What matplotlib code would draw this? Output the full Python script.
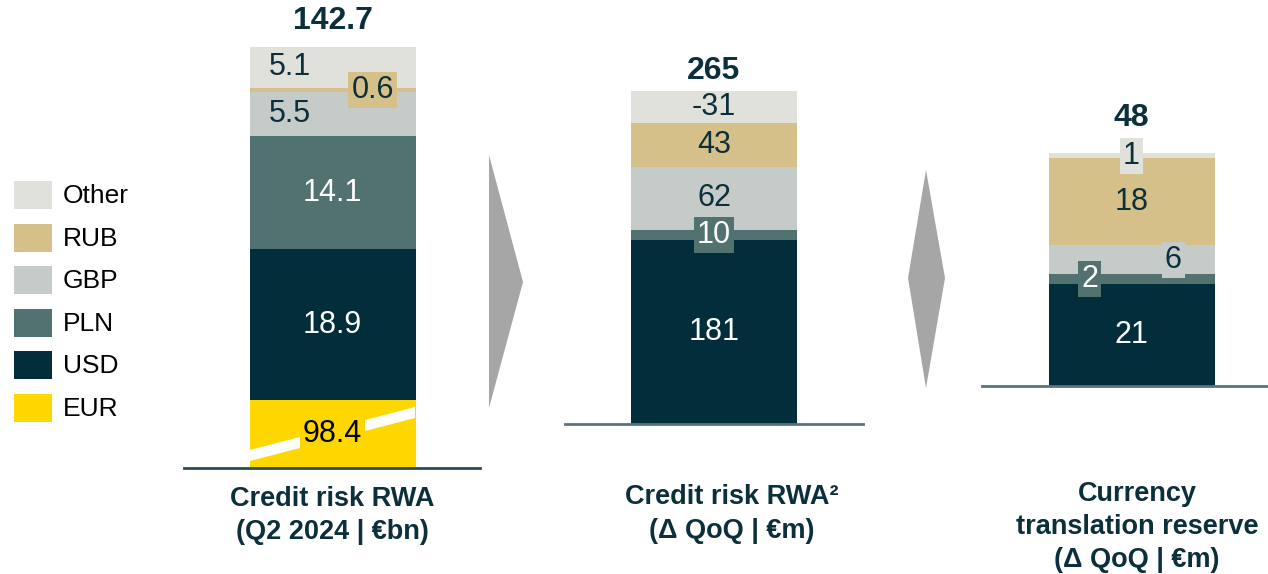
import matplotlib
matplotlib.use("Agg")
import matplotlib.pyplot as plt
from matplotlib.patches import Polygon, Rectangle

plt.rcParams['font.family'] = ['Liberation Sans', 'DejaVu Sans']

# stack order, bottom to top
currencies = ['EUR', 'USD', 'PLN', 'GBP', 'RUB', 'Other']
rwa_q2 = [98.4, 18.9, 14.1, 5.5, 0.6, 5.1]          # €bn
rwa_q2_total = 142.7
eur_shown = 8.4                                      # EUR bar is drawn broken

fx_currencies = ['USD', 'PLN', 'GBP', 'RUB', 'Other']
rwa_qoq = [181, 10, 62, 43, -31]                     # €m
ctr_qoq = [21, 2, 6, 18, 1]                          # €m

legend_order = ['Other', 'RUB', 'GBP', 'PLN', 'USD', 'EUR']

colors = {
    'EUR': '#FFD700',
    'USD': '#022E3C',
    'PLN': '#527171',
    'GBP': '#C5CBC9',
    'RUB': '#D6C08A',
    'Other': '#E1E1DC',
}
text_colors = {'EUR': '#000000', 'USD': 'white', 'PLN': 'white',
               'GBP': '#0B2F3B', 'RUB': '#0B2F3B', 'Other': '#0B2F3B'}
dark = '#0B2F3B'
arrow_grey = '#A6A6A6'

W, H = 1268, 574
fig = plt.figure(figsize=(W / 100, H / 100), dpi=100)


def px(x, y):
    # pixel position (from top-left) to figure fraction
    return x / W, 1 - y / H


def make_panel(left, right, center, base, scale, line_color):
    ax = fig.add_axes([left / W, 1 - base / H, (right - left) / W, base / H])
    ax.set_xlim(left - center, right - center)
    ax.set_ylim(0, base / scale)
    ax.axis('off')
    ax.axhline(0, color=line_color, lw=2, zorder=5, clip_on=False)
    return ax


def draw_stack(ax, names, heights, labels, fmt, offsets, boxed, top_label, top_pad):
    bottom = 0
    for name, h, v in zip(names, heights, labels):
        ax.bar(0, abs(h), width=166, bottom=bottom, color=colors[name], linewidth=0, zorder=2)
        mid = bottom + abs(h) / 2
        bbox = None
        if name in boxed:
            bbox = dict(boxstyle='square,pad=0.1', fc=colors[name], ec='none')
        ax.text(offsets.get(name, 0), mid, fmt(v), ha='center', va='center',
                fontsize=22, color=text_colors[name], bbox=bbox, zorder=6)
        bottom += abs(h)
    ax.annotate(top_label, (0, bottom), xytext=(0, top_pad), textcoords='offset pixels',
                ha='center', va='center', fontsize=23, fontweight='bold', color=dark)
    return bottom


# panel 1: credit risk RWA by currency
ax1 = make_panel(184, 480, 332.5, 467.5, 8.0, '#2E4B55')
heights1 = [eur_shown] + rwa_q2[1:]
draw_stack(ax1, currencies, heights1, rwa_q2, lambda v: f'{v:.1f}',
           {'GBP': -43, 'Other': -43, 'RUB': 40}, ['RUB', 'EUR'],
           f'{rwa_q2_total:.1f}', 26)

# white break across the EUR block
brk = [(250, 450), (415, 407), (415, 418), (250, 461)]
ax1.add_patch(Polygon([(x - 332.5, (467.5 - y) / 8.0) for x, y in brk],
                      closed=True, fc='white', ec='none', zorder=3))

# panel 2: credit risk RWA change
ax2 = make_panel(565, 863, 714, 424, 1.017, '#567579')
draw_stack(ax2, fx_currencies, rwa_qoq, rwa_qoq, lambda v: f'{v:d}',
           {}, ['PLN'], f'{sum(rwa_qoq):d}', 20)

# panel 3: currency translation reserve change
ax3 = make_panel(982, 1268, 1131.5, 386, 4.85, '#567579')
draw_stack(ax3, fx_currencies, ctr_qoq, ctr_qoq, lambda v: f'{v:d}',
           {'PLN': -42, 'GBP': 42}, ['PLN', 'GBP', 'Other'], f'{sum(ctr_qoq):d}', 35)

# connector shapes between panels
chevron = [(489, 155), (523, 282), (489, 408)]
diamond = [(926, 170), (945, 278), (926, 388), (908, 278)]
for shape in (chevron, diamond):
    fig.add_artist(Polygon([px(x, y) for x, y in shape], closed=True,
                           transform=fig.transFigure, fc=arrow_grey, ec='none'))

# legend
for i, name in enumerate(legend_order):
    y = 181 + i * 42.6
    x0, y0 = px(14, y + 28)
    fig.add_artist(Rectangle((x0, y0), 38 / W, 28 / H, transform=fig.transFigure,
                             fc=colors[name], ec='none'))
    fx, fy = px(63, y + 15)
    fig.text(fx, fy, name, ha='left', va='center', fontsize=19, color='black')

# panel titles
titles = [
    (332, [(499, 'Credit risk RWA'), (532, '(Q2 2024 | €bn)')]),
    (732, [(497, 'Credit risk RWA²'), (531, '(Δ QoQ | €m)')]),
    (1137, [(494, 'Currency'), (527, 'translation reserve'), (560, '(Δ QoQ | €m)')]),
]
for cx, lines in titles:
    for y, txt in lines:
        tx, ty = px(cx, y)
        fig.text(tx, ty, txt, ha='center', va='center', fontsize=19.5,
                 fontweight='bold', color=dark)

fig.savefig('out.png', dpi=100)
